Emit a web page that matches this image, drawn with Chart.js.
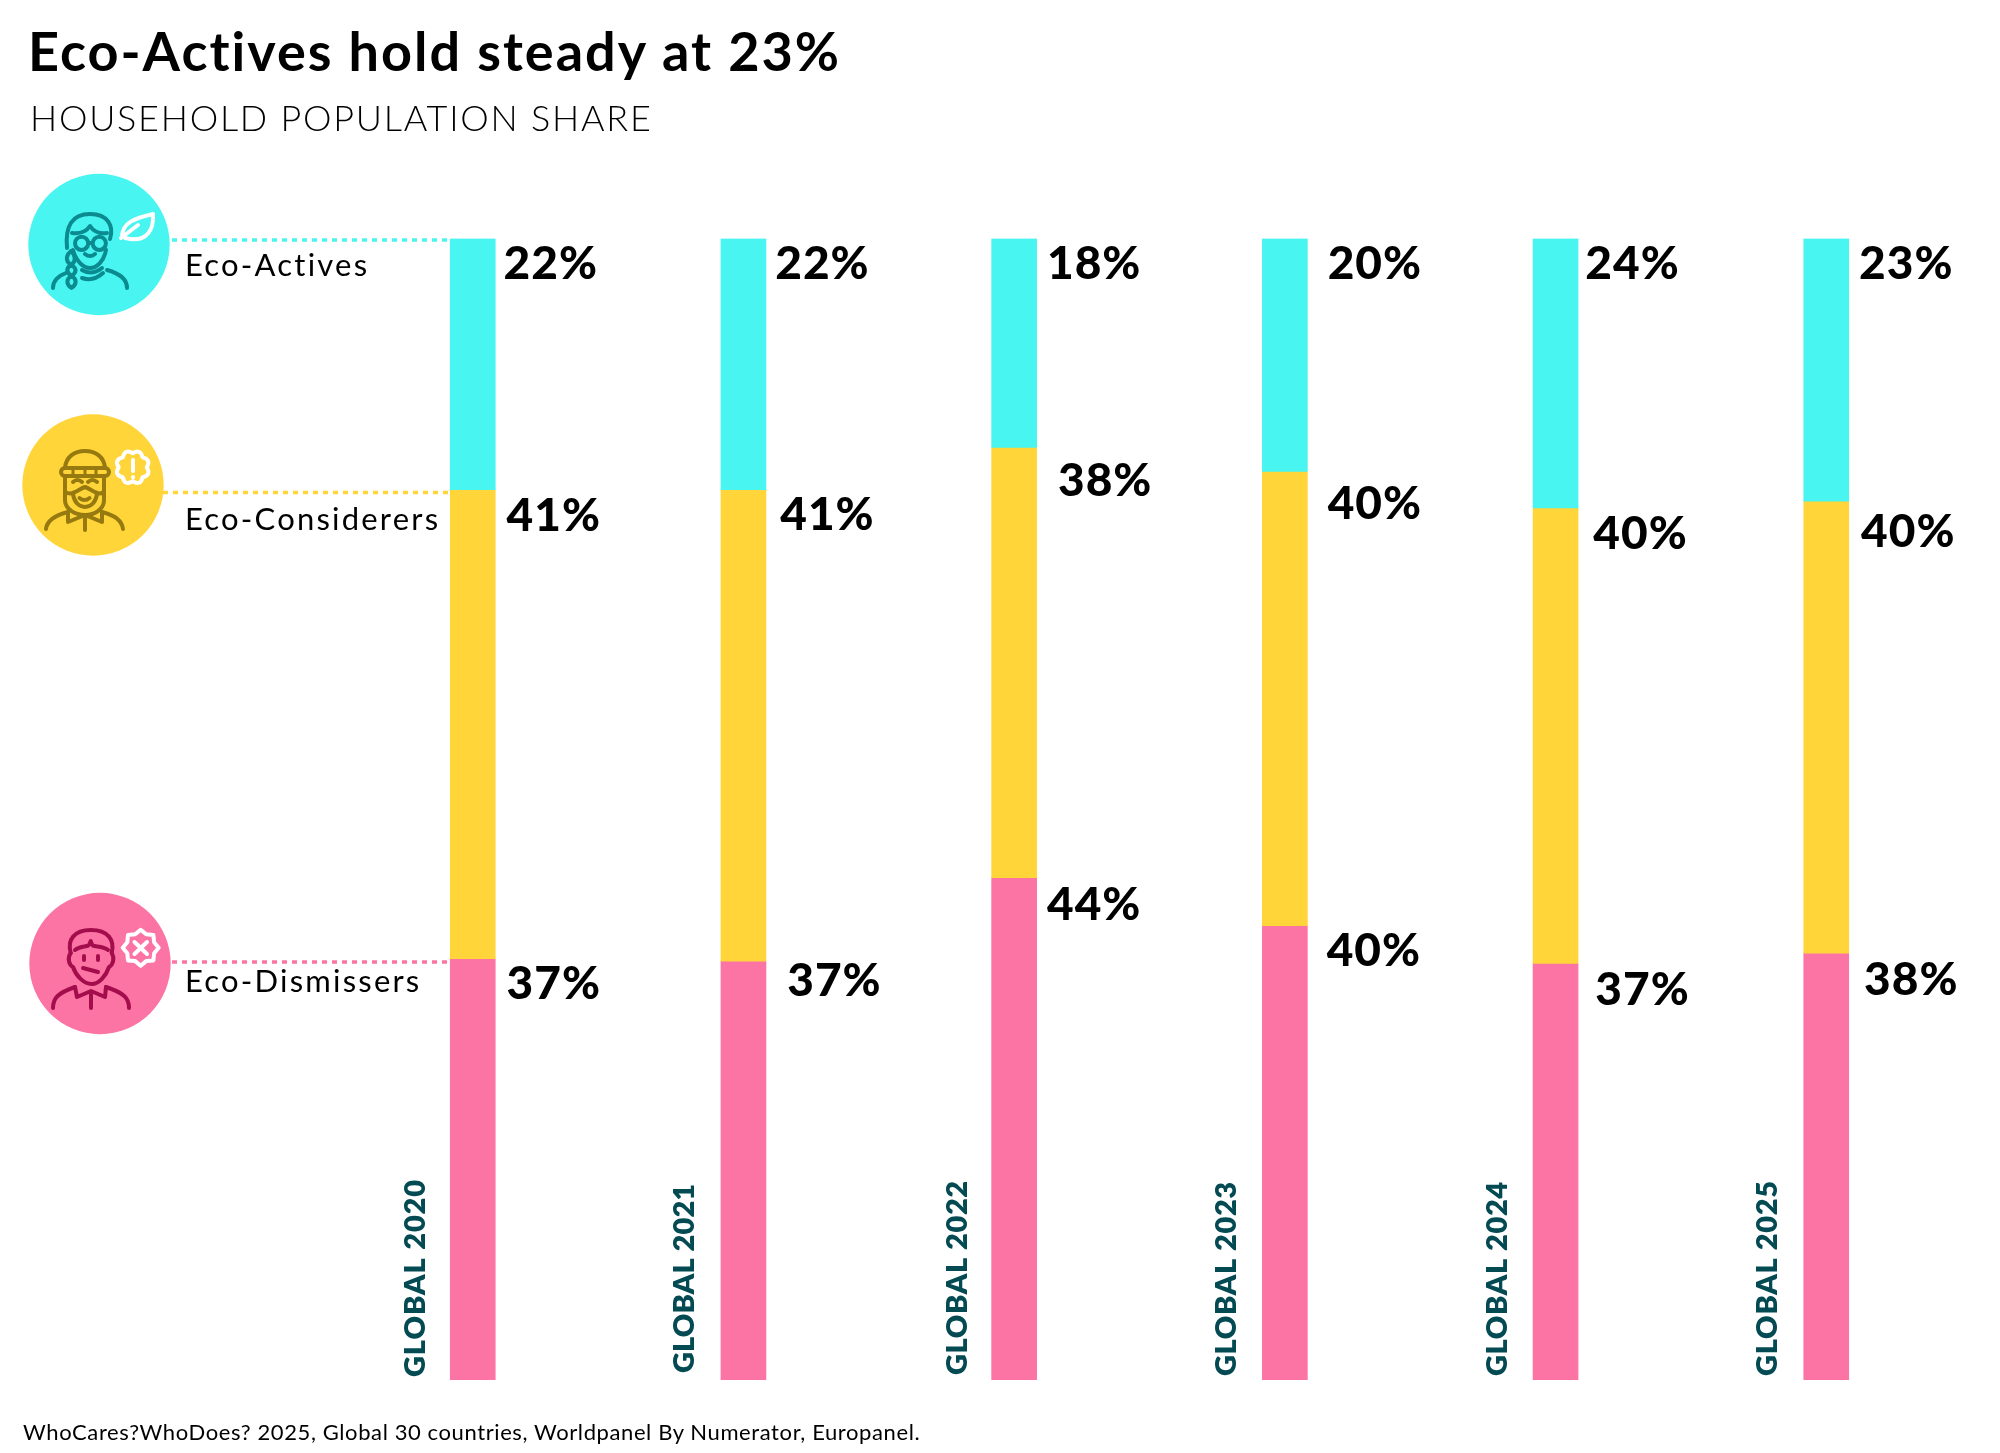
<!DOCTYPE html>
<html>
<head>
<meta charset="utf-8">
<title>Eco-Actives hold steady at 23%</title>
<script src="https://cdn.jsdelivr.net/npm/chart.js@4"></script>
<style>
html, body { margin: 0; padding: 0; background: #fff; }
#page { position: relative; width: 2000px; height: 1453px; overflow: hidden; font-family: Lato, sans-serif; color: #000; }
#page canvas, #icons { position: absolute; left: 0; top: 0; }
.txt { position: absolute; white-space: nowrap; line-height: 1; }
#title { left: 28px; top: 24px; font-size: 54px; font-weight: 700; letter-spacing: 2px; }
#subtitle { left: 30px; top: 99px; font-size: 36px; font-weight: 300; letter-spacing: 1.75px; }
#source { left: 23px; top: 1421px; font-size: 22px; font-weight: 400; letter-spacing: 0.6px; }
</style>
</head>
<body>
<div id="page">
  <canvas id="chart" width="2000" height="1453"></canvas>
  <svg id="icons" width="2000" height="1453" viewBox="0 0 2000 1453"></svg>
  <div class="txt" id="title">Eco-Actives hold steady at 23%</div>
  <div class="txt" id="subtitle">HOUSEHOLD POPULATION SHARE</div>
  <div class="txt" id="source">WhoCares?WhoDoes? 2025, Global 30 countries, Worldpanel By Numerator, Europanel.</div>
</div>
<script>
// values (bar heights), printed labels kept apart because they are rounded
var years = ['GLOBAL 2020', 'GLOBAL 2021', 'GLOBAL 2022', 'GLOBAL 2023', 'GLOBAL 2024', 'GLOBAL 2025'];
var ecoActives = [22, 22, 18.3, 20.4, 23.6, 23];
var ecoConsiderers = [41.1, 41.3, 37.7, 39.8, 39.9, 39.6];
var ecoDismissers = [36.9, 36.7, 44, 39.8, 36.5, 37.4];
var activesLabels = ['22%', '22%', '18%', '20%', '24%', '23%'];
var consideresLabels = ['41%', '41%', '38%', '40%', '40%', '40%'];
var dismissersLabels = ['37%', '37%', '44%', '40%', '37%', '38%'];

var cyan = '#48f5f1', yellow = '#ffd53a', pink = '#fb74a4';

// label nudges from the bar centre / segment top
var nudgeX = [[78, 79, 80, 90, 77, 80], [81, 84, 91, 90, 85, 82], [81, 91, 80, 89, 87, 85]];
var nudgeY = [[26, 26, 26, 26, 26, 26], [27, 26, 34, 33, 26, 31], [25, 20, 27, 25, 27, 27]];
var yearX = [57, 59, 57, 58, 58, 59];
var yearBottom = [1377, 1373, 1375, 1376, 1376, 1376];
var yearSpacing = [0.9, 0.1, 0.6, 0.6, 0.6, 0.7];

var legendRows = [
    { name: 'Eco-Actives', color: cyan, cx: 99, cy: 244.5, lineX: 172, lineY: 240, textY: 276 },
    { name: 'Eco-Considerers', color: yellow, cx: 93, cy: 485, lineX: 163, lineY: 492.5, textY: 530 },
    { name: 'Eco-Dismissers', color: pink, cx: 100, cy: 963.5, lineX: 172, lineY: 962, textY: 992 }
];

var overlay = {
    id: 'overlay',
    beforeDatasetsDraw: function(chart) {
        var ctx = chart.ctx;
        ctx.save();
        legendRows.forEach(function(r) {
            ctx.fillStyle = r.color;
            ctx.beginPath();
            ctx.arc(r.cx, r.cy, 70.7, 0, Math.PI * 2);
            ctx.fill();
            ctx.strokeStyle = r.color;
            ctx.lineWidth = 3.5;
            ctx.setLineDash([5, 5]);
            ctx.beginPath();
            ctx.moveTo(r.lineX, r.lineY);
            ctx.lineTo(chart.getDatasetMeta(0).data[0].x - 22.5, r.lineY);
            ctx.stroke();
            ctx.setLineDash([]);
            ctx.fillStyle = '#000';
            ctx.font = '400 31px Lato';
            ctx.letterSpacing = '2.2px';
            ctx.textAlign = 'left';
            ctx.textBaseline = 'alphabetic';
            ctx.fillText(r.name, 185, r.textY);
        });
        ctx.restore();
    },
    afterDatasetsDraw: function(chart) {
        var ctx = chart.ctx;
        ctx.save();
        var allLabels = [activesLabels, consideresLabels, dismissersLabels];
        allLabels.forEach(function(labels, d) {
            var meta = chart.getDatasetMeta(d);
            labels.forEach(function(text, i) {
                var bar = meta.data[i];
                var top = Math.min(bar.y, bar.base);
                ctx.fillStyle = '#000';
                ctx.font = '900 46px Lato';
                ctx.letterSpacing = '1px';
                ctx.textAlign = 'center';
                ctx.textBaseline = 'middle';
                ctx.fillText(text, bar.x + nudgeX[d][i], top + nudgeY[d][i]);
            });
        });
        // year labels, rotated, left of each bar
        var first = chart.getDatasetMeta(0);
        years.forEach(function(text, i) {
            ctx.save();
            ctx.translate(first.data[i].x - yearX[i], yearBottom[i]);
            ctx.rotate(-Math.PI / 2);
            ctx.fillStyle = '#034a52';
            ctx.font = '800 29px Lato';
            ctx.letterSpacing = yearSpacing[i] + 'px';
            ctx.textAlign = 'left';
            ctx.textBaseline = 'middle';
            ctx.fillText(text, 0, 0);
            ctx.restore();
        });
        ctx.restore();
    }
};

new Chart(document.getElementById('chart').getContext('2d'), {
    type: 'bar',
    data: {
        labels: years,
        datasets: [
            { label: 'Eco-Actives', data: ecoActives, backgroundColor: cyan },
            { label: 'Eco-Considerers', data: ecoConsiderers, backgroundColor: yellow },
            { label: 'Eco-Dismissers', data: ecoDismissers, backgroundColor: pink }
        ]
    },
    options: {
        responsive: false,
        animation: false,
        devicePixelRatio: 1,
        barThickness: 45,
        layout: { padding: { left: 337.4, right: 38.4, top: 238.5, bottom: 73 } },
        plugins: { legend: { display: false }, tooltip: { enabled: false } },
        scales: {
            x: { stacked: true, display: false },
            y: { stacked: true, display: false, reverse: true, min: 0, max: 100 }
        }
    },
    plugins: [overlay]
});

// icons in the circles
function flower(cx, cy, r0, r1, n) {
    var d = '';
    for (var i = 0; i < n; i++) {
        var a0 = i / n * Math.PI * 2, a1 = (i + 1) / n * Math.PI * 2, am = (a0 + a1) / 2;
        var x0 = cx + r0 * Math.cos(a0), y0 = cy + r0 * Math.sin(a0);
        var x1 = cx + r0 * Math.cos(a1), y1 = cy + r0 * Math.sin(a1);
        var mx = cx + r1 * Math.cos(am), my = cy + r1 * Math.sin(am);
        d += (i == 0 ? 'M' + x0.toFixed(1) + ' ' + y0.toFixed(1) : '') + 'Q' + mx.toFixed(1) + ' ' + my.toFixed(1) + ' ' + x1.toFixed(1) + ' ' + y1.toFixed(1);
    }
    return d + 'Z';
}
function star(cx, cy, r0, r1, n) {
    var d = '';
    for (var i = 0; i < n * 2; i++) {
        var a = i / (n * 2) * Math.PI * 2 - Math.PI / 2, r = i % 2 ? r0 : r1;
        d += (i == 0 ? 'M' : 'L') + (cx + r * Math.cos(a)).toFixed(1) + ' ' + (cy + r * Math.sin(a)).toFixed(1);
    }
    return d + 'Z';
}
function stroked(color, d, w) {
    return '<path d="' + d + '" fill="none" stroke="' + color + '" stroke-width="' + (w || 4) + '" stroke-linecap="round" stroke-linejoin="round"/>';
}
var teal = '#0b8a8f', olive = '#96790f', wine = '#a30d4c';
var svg = '';
// eco-active: woman with glasses and braid
svg += stroked(teal, 'M67 248C65 226 72 214 90 214C108 214 114 226 110 239');
svg += stroked(teal, 'M72 233C80 234 86 232 90 226C94 232 100 234 107 233');
svg += stroked(teal, 'M73 250C76 261 83 268 90 268C97 268 104 261 106 250');
svg += stroked(teal, 'M75 243.3a6.6 6.6 0 1 0 13.2 0a6.6 6.6 0 1 0 -13.2 0M92.7 243.3a6.6 6.6 0 1 0 13.2 0a6.6 6.6 0 1 0 -13.2 0M88.2 243L92.7 243');
svg += stroked(teal, 'M85 254Q90 258 95 254');
svg += stroked(teal, 'M71 251C65 256 66 262 71 265C76 262 76 256 71 251M71 265C66 268 66 272 71.5 276C77 272 77 268 71 265M71.5 276C66 279 66 284 71.5 288C77 284 77 279 71.5 276');
svg += stroked(teal, 'M82 270Q92 276 102 268M82 278Q93 282 103 273');
svg += stroked(teal, 'M53 288C53 280 58 276 66 273M127 288C127 278 118 273 107 270');
svg += stroked('#fff', 'M122 237C122 222 136 218 153 214C154 228 148 244 125 238M121 238L138 225');
// eco-considerer: man with beanie and beard
svg += stroked(olive, 'M65 468C66 457 74 451 85 451C96 451 104 457 105 468');
svg += '<rect x="61" y="468" width="48" height="8" rx="4" fill="none" stroke="' + olive + '" stroke-width="4"/>';
svg += stroked(olive, 'M73 470V474M85 470V474M96 470V474', 3);
svg += stroked(olive, 'M65 477V500C65 509 75 515 85 515C95 515 104 509 104 500V477');
svg += stroked(olive, 'M65 492C69 494 72 494 75 492C79 490 82 488 85 487C88 488 91 490 95 492C98 494 101 494 104 492');
svg += stroked(olive, 'M73 494C74 502 79 507 85 507C91 507 96 502 97 494');
svg += stroked(olive, 'M73 482Q77.5 478 82 482M88 482Q92.5 478 97 482M79.5 498Q84.5 502 89.5 498');
svg += stroked(olive, 'M46 529C47 520 56 515 68 512M123 529C122 520 114 515 102 512');
svg += stroked(olive, 'M68 512L68 522L85 515L102 522L102 512M85 517V530');
svg += stroked('#fff', flower(132.7, 467.3, 14, 20.5, 8));
svg += stroked('#fff', 'M133 460V471M133 477V477.5');
// eco-dismisser: man with flat mouth
svg += stroked(wine, 'M70.7 953C67 940 74 930 91 930C108 930 115 940 111.7 953');
svg += stroked(wine, 'M75 950C80 946 85 947 88 945.7C90 944 90.5 942 90.7 941C91 942 91.5 944 93 945.7C96 947 103 946 108 950');
svg += stroked(wine, 'M70.7 953C67 958 69 965 73 967C76 976 84 984 91.7 984C99 984 106 976 109 967C113 965 115 958 111.7 953');
svg += stroked(wine, 'M84 956V960M98 956V960M83 968L98 972');
svg += stroked(wine, 'M53 1008C53 998 58 993 75 987M129 1008C129 998 124 993 106 987');
svg += stroked(wine, 'M75 987L77 997L91 991L105 997L106 987M91 993V1008');
svg += stroked('#fff', star(140.7, 947.7, 14.5, 18, 8));
svg += stroked('#fff', 'M134.5 942L147 954M147 942L134.5 954');
document.getElementById('icons').innerHTML = svg;
</script>
</body>
</html>
